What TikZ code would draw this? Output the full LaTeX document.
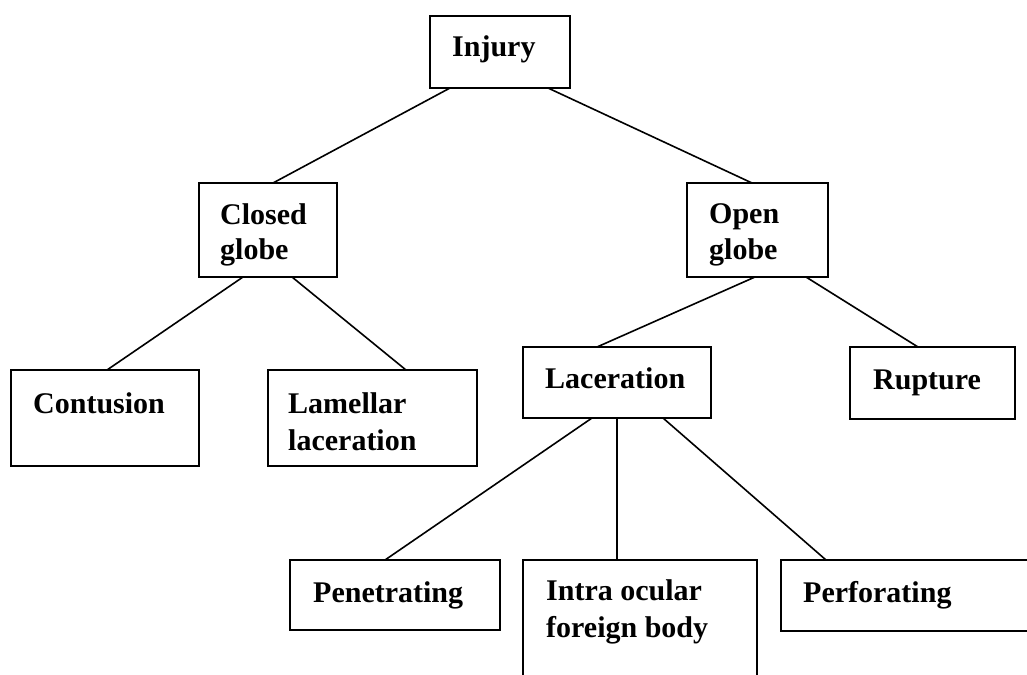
\documentclass[tikz,border=0pt]{standalone}
\usepackage{fontspec}
\setmainfont{Liberation Serif}
\usetikzlibrary{calc}
\tikzset{
  box/.style={draw, line width=1.8pt, rectangle, inner sep=0pt, outer sep=0pt, anchor=north west},
  lbl/.style={anchor=base west, inner sep=0pt, font=\bfseries\fontsize{30}{36}\selectfont},
  conn/.style={line width=1.6pt}
}
\begin{document}
\begin{tikzpicture}[x=1pt,y=-1pt]
\useasboundingbox (0,0) rectangle (1027,674);
\fill[white] (0,0) rectangle (1027,674);
% boxes
\node[box, minimum width=140pt, minimum height=72pt] (injury) at (430,16) {};
\node[box, minimum width=138pt, minimum height=94pt] (closed) at (199,183) {};
\node[box, minimum width=141pt, minimum height=94pt] (open) at (687,183) {};
\node[box, minimum width=188pt, minimum height=96pt] (contusion) at (11,370) {};
\node[box, minimum width=209pt, minimum height=96pt] (lamellar) at (268,370) {};
\node[box, minimum width=188pt, minimum height=71pt] (laceration) at (523,347) {};
\node[box, minimum width=165pt, minimum height=72pt] (rupture) at (850,347) {};
\node[box, minimum width=210pt, minimum height=70pt] (penetrating) at (290,560) {};
\node[box, minimum width=234pt, minimum height=130pt] (intra) at (523,560) {};
\node[box, minimum width=249pt, minimum height=71pt] (perforating) at (781,560) {};
% labels
\node[lbl] (tInjury) at (452,57) {Injury};
\node[lbl] (tClosedA) at (220,224) {Closed};
\node[lbl] (tClosedB) at (220,259) {globe};
\node[lbl] (tOpenA) at (709,223) {Open};
\node[lbl] (tOpenB) at (709,259) {globe};
\node[lbl] (tContusion) at (33,413) {Contusion};
\node[lbl] (tLamA) at (288,413) {Lamellar};
\node[lbl] (tLamB) at (288,450) {laceration};
\node[lbl] (tLaceration) at (545,388) {Laceration};
\node[lbl] (tRupture) at (873,389) {Rupture};
\node[lbl] (tPenetrating) at (313,602) {Penetrating};
\node[lbl] (tIntraA) at (546,600) {Intra ocular};
\node[lbl] (tIntraB) at (546,637) {foreign body};
\node[lbl] (tPerforating) at (803,602) {Perforating};
% connectors
\draw[conn] ($(injury.south west)+(20,0)$) -- ($(closed.north west)+(74,0)$);
\draw[conn] ($(injury.south west)+(118,0)$) -- ($(open.north west)+(65,0)$);
\draw[conn] ($(closed.south west)+(44,0)$) -- ($(contusion.north west)+(96,0)$);
\draw[conn] ($(closed.south west)+(93,0)$) -- ($(lamellar.north west)+(138,0)$);
\draw[conn] ($(open.south west)+(68,0)$) -- ($(laceration.north west)+(74,0)$);
\draw[conn] ($(open.south west)+(119,0)$) -- ($(rupture.north west)+(68,0)$);
\draw[conn] ($(laceration.south west)+(69,0)$) -- ($(penetrating.north west)+(95,0)$);
\draw[conn] ($(laceration.south west)+(94,0)$) -- ($(intra.north west)+(94,0)$);
\draw[conn] ($(laceration.south west)+(140,0)$) -- ($(perforating.north west)+(45,0)$);
\end{tikzpicture}
\end{document}
